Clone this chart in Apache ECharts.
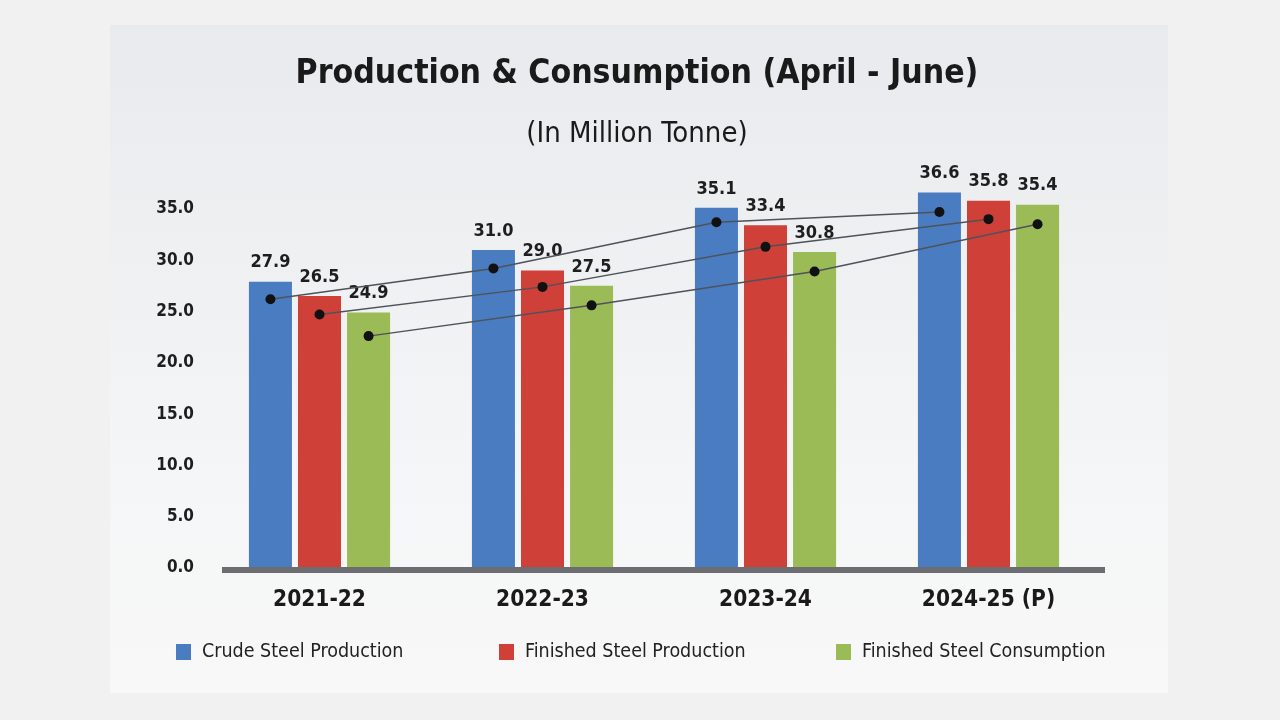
<!DOCTYPE html>
<html>
<head>
<meta charset="utf-8">
<script src="https://cdn.jsdelivr.net/npm/echarts@6/dist/echarts.min.js"></script>
<style>
html,body{margin:0;padding:0;background:#f1f1f1;}
#c{width:1280px;height:720px;}
</style>
</head>
<body>
<div id="c"></div>
<script>
const categories = ['2021-22', '2022-23', '2023-24', '2024-25 (P)'];
const seriesNames = ['Crude Steel Production', 'Finished Steel Production', 'Finished Steel Consumption'];
const crudeProd = [27.9, 31.0, 35.1, 36.6];
const finishedProd = [26.5, 29.0, 33.4, 35.8];
const finishedCons = [24.9, 27.5, 30.8, 35.4];
// decorative trend line points
const crudeTrend = [26.2, 29.2, 33.7, 34.7];
const finishedTrend = [24.7, 27.4, 31.3, 34.0];
const consTrend = [22.6, 25.6, 28.9, 33.5];
const yTicks = [0, 5, 10, 15, 20, 25, 30, 35];

const colors = ['#4a7cc2', '#cf4038', '#9bbb57'];
const FONT = '"Liberation Sans Narrow", "DejaVu Sans Condensed", "Roboto Condensed", "Liberation Sans", sans-serif';

const barWidthFrac = 0.193;
const barGapFrac = 0.14;
const step = barWidthFrac * (1 + barGapFrac);
const offsets = [-step, 0, step];
const trends = [crudeTrend, finishedTrend, consTrend];
const bars = [crudeProd, finishedProd, finishedCons];

const chart = echarts.init(document.getElementById('c'), null, {renderer: 'canvas'});

const series = [];
bars.forEach((d, i) => {
  series.push({
    type: 'bar', name: seriesNames[i], data: d, xAxisIndex: 0, yAxisIndex: 0,
    barWidth: (barWidthFrac * 100) + '%', barGap: (barGapFrac * 100) + '%',
    itemStyle: {color: colors[i]},
    label: {show: true, position: 'top', distance: 10, formatter: p => p.value.toFixed(1),
      fontFamily: FONT, fontWeight: 'bold', fontSize: 18, color: '#1e1e1e'},
    z: 2
  });
});
trends.forEach((d, i) => {
  series.push({
    type: 'line', name: 'trend' + i, xAxisIndex: 1, yAxisIndex: 0,
    data: d.map((v, k) => [k + offsets[i], v]),
    symbol: 'circle', symbolSize: 10,
    itemStyle: {color: '#111'},
    lineStyle: {color: '#4e535a', width: 1.5},
    z: 5, silent: true
  });
});

const legendLefts = [171, 494, 831];
const legends = seriesNames.map((n, i) => ({
  data: [n], top: 637, left: legendLefts[i], itemWidth: 15, itemHeight: 16,
  icon: 'rect',
  textStyle: {fontFamily: FONT, fontSize: 19.5, color: '#222', padding: [0, 0, 0, 6]}
}));

chart.setOption({
  animation: false,
  backgroundColor: '#f1f1f1',
  graphic: [
    {type: 'rect', shape: {x: 110, y: 25, width: 1058, height: 668}, z: -10,
      style: {fill: new echarts.graphic.LinearGradient(0, 0, 0, 1, [
        {offset: 0, color: '#e8eaed'}, {offset: 0.35, color: '#eef0f2'},
        {offset: 0.7, color: '#f5f6f7'}, {offset: 1, color: '#f8f8f8'}])}},
    {type: 'rect', shape: {x: 222, y: 567, width: 883, height: 6}, z: 10,
      style: {fill: '#6b6d70'}}
  ],
  title: [
    {text: 'Production & Consumption (April - June)', left: 632, textAlign: 'center', top: 52,
      textStyle: {fontFamily: FONT, fontWeight: 'bold', fontSize: 33.5, color: '#1a1a1a'}},
    {text: '(In Million Tonne)', left: 632, textAlign: 'center', top: 115,
      textStyle: {fontFamily: FONT, fontWeight: 'normal', fontSize: 29, color: '#1a1a1a'}}
  ],
  legend: legends,
  grid: {left: 208, right: 180, top: 157.6, bottom: 152},
  xAxis: [
    {type: 'category', data: categories,
      axisLine: {show: false}, axisTick: {show: false},
      axisLabel: {fontFamily: FONT, fontWeight: 'bold', fontSize: 22.5, color: '#1a1a1a', margin: 21}},
    {type: 'value', min: -0.5, max: 3.5, show: false}
  ],
  yAxis: {
    type: 'value', min: 0, max: 40, interval: 5,
    splitLine: {show: false}, axisLine: {show: false}, axisTick: {show: false},
    axisLabel: {fontFamily: FONT, fontWeight: 'bold', fontSize: 17, color: '#1e1e1e', margin: 14,
      formatter: v => yTicks.indexOf(v) >= 0 ? v.toFixed(1) : ''}
  },
  series: series
});
</script>
</body>
</html>
